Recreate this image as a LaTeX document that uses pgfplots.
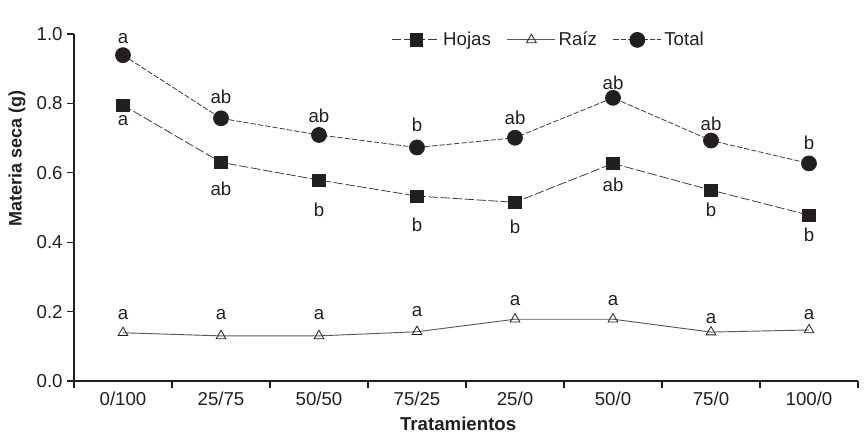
\documentclass[border=0pt]{standalone}
\usepackage{pgfplots}
\pgfplotsset{compat=1.18}
\usepackage{fontspec}
\setmainfont{Liberation Sans}
\usetikzlibrary{calc}
\definecolor{ink}{RGB}{35,31,32}
\definecolor{lin}{RGB}{60,60,60}
\begin{document}
\begin{tikzpicture}
\begin{axis}[
  scale only axis,
  width=588pt, height=260.25pt,
  xmin=-0.5, xmax=7.5, ymin=0, ymax=1.0,
  axis x line*=bottom, axis y line*=left,
  every non boxed x axis/.append style={x axis line style=-},
  every non boxed y axis/.append style={y axis line style=-},
  axis line style={ink, line width=0.8pt},
  xtick={0,...,7},
  xticklabels={0/100,25/75,50/50,75/25,25/0,50/0,75/0,100/0},
  major x tick style={draw=none},
  minor xtick={-0.5,0.5,...,7.5},
  minor tick length=5pt,
  minor x tick style={ink, line width=0.8pt},
  ytick={0,0.2,...,1.0},
  y tick style={ink, line width=0.8pt},
  major tick length=5pt,
  tick align=outside,
  yticklabel style={/pgf/number format/.cd, fixed, fixed zerofill, precision=1, assume math mode=true},
  ticklabel style={font=\fontsize{14}{16}\selectfont, text=ink},
  xlabel={\textbf{Tratamientos}},
  ylabel={\textbf{Materia seca (g)}},
  every axis x label/.style={at={(axis description cs:0.49,0)}, anchor=center, yshift=-32.25pt, font=\fontsize{14}{16}\selectfont, text=ink},
  every axis y label/.style={at={(axis description cs:-0.0727,0.64)}, anchor=center, rotate=90, font=\fontsize{13.5}{16}\selectfont, text=ink},
  legend style={draw=none, fill=none, at={(axis description cs:0.606,0.983)}, anchor=center,
    legend columns=3, font=\fontsize{14}{16}\selectfont, text=ink,
    /tikz/every even column/.style={column sep=10pt}},
  legend image code/.code={
    \draw[#1] (0pt,0pt) -- (36pt,0pt);
    \draw[#1] plot coordinates {(18pt,0pt)};
  },
  clip=false,
]
\addplot[lin, line width=0.6pt, dash pattern=on 7pt off 2pt, mark=square*, mark size=4.6pt,
  mark options={solid, fill=ink, draw=ink}]
  coordinates {(0,0.795) (1,0.630) (2,0.579) (3,0.533) (4,0.515) (5,0.627) (6,0.550) (7,0.478)};
\addlegendentry{Hojas}
\addplot[black!65, line width=0.7pt, mark=triangle, mark size=4.2pt,
  mark options={solid, fill=white, draw=ink, line width=0.6pt}]
  coordinates {(0,0.139) (1,0.130) (2,0.130) (3,0.142) (4,0.178) (5,0.178) (6,0.141) (7,0.147)};
\addlegendentry{Raíz}
\addplot[lin, line width=0.6pt, dash pattern=on 4pt off 1.5pt, mark=*, mark size=5.6pt,
  mark options={solid, fill=ink, draw=ink}]
  coordinates {(0,0.939) (1,0.757) (2,0.709) (3,0.673) (4,0.701) (5,0.816) (6,0.693) (7,0.627)};
\addlegendentry{Total}
% significance letters
\begin{scope}[every node/.style={anchor=base, font=\fontsize{14}{16}\selectfont, text=ink, inner sep=0pt}]
\node at (axis cs:0,0.973) {a};
\node at (axis cs:1,0.800) {ab};
\node at (axis cs:2,0.744) {ab};
\node at (axis cs:3,0.718) {b};
\node at (axis cs:4,0.738) {ab};
\node at (axis cs:5,0.840) {ab};
\node at (axis cs:6,0.723) {ab};
\node at (axis cs:7,0.668) {b};
\node at (axis cs:0,0.735) {a};
\node at (axis cs:1,0.536) {ab};
\node at (axis cs:2,0.474) {b};
\node at (axis cs:3,0.430) {b};
\node at (axis cs:4,0.425) {b};
\node at (axis cs:5,0.546) {ab};
\node at (axis cs:6,0.474) {b};
\node at (axis cs:7,0.401) {b};
\node at (axis cs:0,0.176) {a};
\node at (axis cs:1,0.176) {a};
\node at (axis cs:2,0.176) {a};
\node at (axis cs:3,0.187) {a};
\node at (axis cs:4,0.219) {a};
\node at (axis cs:5,0.219) {a};
\node at (axis cs:6,0.167) {a};
\node at (axis cs:7,0.178) {a};
\end{scope}
\end{axis}
\pgfresetboundingbox
\path[use as bounding box] ($(current axis.south west)+(-55.5pt,-42pt)$) rectangle ($(current axis.north east)+(4.5pt,25.5pt)$);
\end{tikzpicture}
\end{document}
